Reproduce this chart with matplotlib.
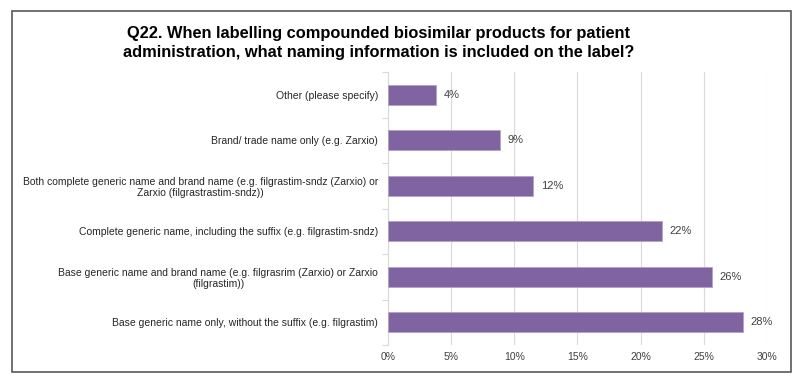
import matplotlib.pyplot as plt
from matplotlib.patches import Rectangle
from matplotlib.ticker import FixedLocator

plt.rcParams['font.family'] = ['Liberation Sans', 'DejaVu Sans']

# answers, top to bottom as drawn
categories = [
    'Other (please specify)',
    'Brand/ trade name only (e.g. Zarxio)',
    'Both complete generic name and brand name (e.g. filgrastim-sndz (Zarxio) or\nZarxio (filgrastrastim-sndz))',
    'Complete generic name, including the suffix (e.g. filgrastim-sndz)',
    'Base generic name and brand name (e.g. filgrasrim (Zarxio) or Zarxio\n(filgrastim))',
    'Base generic name only, without the suffix (e.g. filgrastim)',
]
values = [3.8, 8.9, 11.5, 21.7, 25.6, 28.1]
value_labels = ['4%', '9%', '12%', '22%', '26%', '28%']
xticks = [0, 5, 10, 15, 20, 25, 30]

title = ('Q22. When labelling compounded biosimilar products for patient\n'
         'administration, what naming information is included on the label?')

fig = plt.figure(figsize=(8, 3.79), dpi=100)
ax = fig.add_axes([0.4846, 0.0897, 0.4745, 0.7203])

y = list(range(len(categories)))
ax.barh(y, values, height=0.45, color='#8064A2', edgecolor='#B3A2C7', linewidth=0.6, zorder=3)
for yi, v, lab in zip(y, values, value_labels):
    ax.text(v + 0.6, yi, lab, va='center', ha='left', fontsize=8, color='#404040')

ax.set_ylim(len(categories) - 0.5, -0.5)
ax.set_xlim(0, 30)
ax.set_yticks(y)
ax.set_yticklabels(categories, fontsize=7.5, color='#262626', multialignment='center')
ax.yaxis.set_minor_locator(FixedLocator([i - 0.5 for i in range(len(categories) + 1)]))
ax.tick_params(axis='y', which='major', length=0, pad=7)
ax.tick_params(axis='y', which='minor', length=4, color='#D9D9D9', width=0.8)
ax.set_xticks(xticks)
ax.set_xticklabels([f'{t}%' for t in xticks], fontsize=7.5, color='#404040')
ax.tick_params(axis='x', length=0, pad=5)
ax.grid(axis='x', color='#D9D9D9', linewidth=0.8, zorder=0)
for s in ['top', 'right', 'bottom']:
    ax.spines[s].set_visible(False)
ax.spines['left'].set_color('#D9D9D9')
ax.spines['left'].set_linewidth(0.8)

fig.text(0.473, 0.8865, title, ha='center', va='center', fontsize=11.8,
         fontweight='bold', color='black', linespacing=1.28)

fig.patches.append(Rectangle((12 / 800, 1 - 371.5 / 379), 779 / 800, 360.5 / 379,
                             transform=fig.transFigure, fill=False,
                             edgecolor='#595959', linewidth=1.2))

fig.savefig('out.png', dpi=100)
